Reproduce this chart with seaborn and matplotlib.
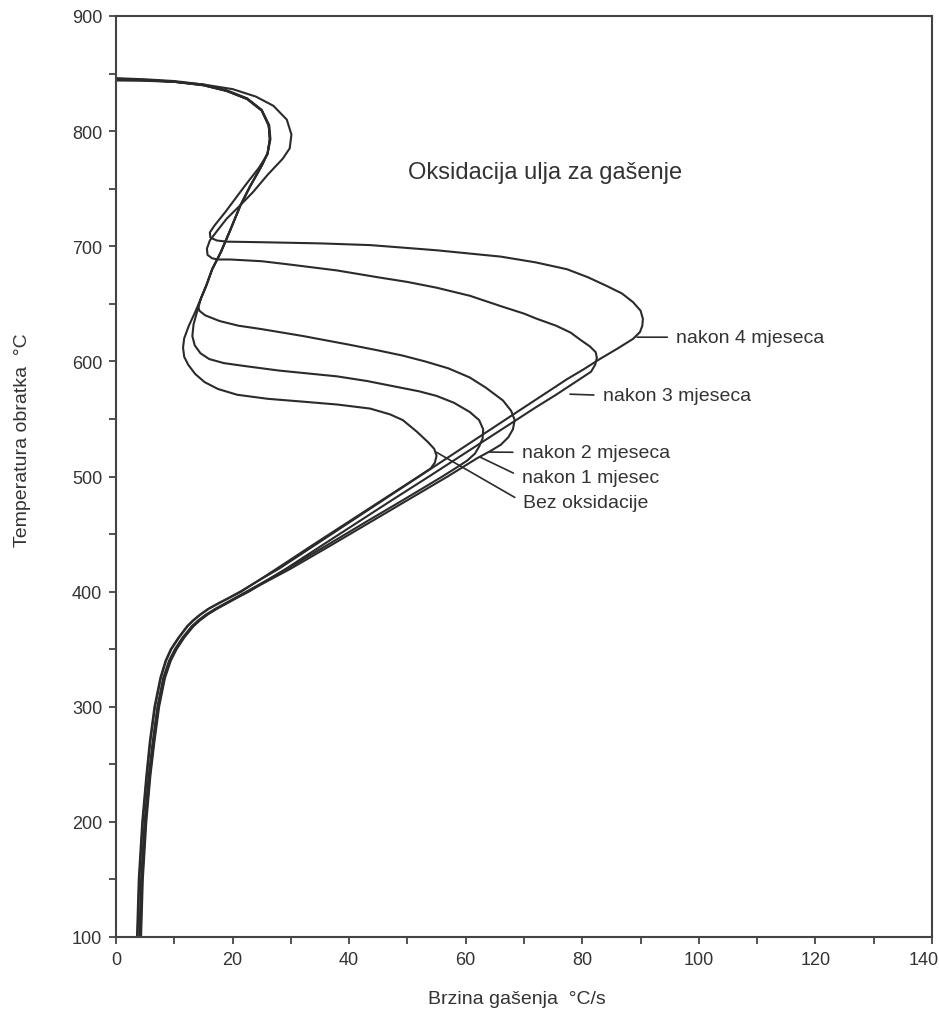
import matplotlib
matplotlib.use("Agg")
import matplotlib.pyplot as plt
import matplotlib.transforms as mtransforms
import pandas as pd
import seaborn as sns
from matplotlib.ticker import MultipleLocator

# ---------------- data (cooling rate °C/s, temperature °C) ----------------
SERIES = ["Bez oksidacije", "nakon 1 mjesec", "nakon 2 mjeseca",
          "nakon 3 mjeseca", "nakon 4 mjeseca"]

BEZ = [(0, 845.5), (5, 844.5), (10, 843), (15, 840), (19, 835), (22.5, 828), (25, 818),
       (26.2, 805), (26.4, 793), (26.0, 781), (25, 770), (23, 752), (21.3, 735), (19.6, 714),
       (18.0, 695), (16.5, 680), (15.5, 666), (14.6, 655), (13.6, 643), (12.5, 631),
       (11.7, 620), (11.5, 612), (11.7, 604), (12.4, 597), (13.6, 589), (15.2, 582),
       (17.5, 576), (20.8, 571), (26, 567.5), (32.1, 565), (38, 562.5), (43.6, 559),
       (47, 554), (49.2, 549), (51.6, 539), (53.5, 530), (54.6, 524), (55, 518), (54.7, 512),
       (54, 507), (51.9, 500), (45.8, 480), (39.7, 460), (33.6, 440), (27.6, 420), (21.5, 400),
       (19.6, 395), (17.7, 390), (15.9, 385), (14.5, 380), (13.3, 375), (12.3, 370),
       (10.8, 360), (9.5, 350), (8.6, 340), (7.7, 325), (6.7, 300), (5.9, 270), (5.3, 240),
       (4.6, 200), (4.0, 150), (3.7, 100)]

M1 = [(0, 845.2), (5, 844.3), (10, 842.9), (15, 839.9), (19, 835), (22.5, 828), (25, 818),
      (26.2, 805), (26.4, 793), (26.0, 780.5), (25, 770), (23, 752), (21.3, 735), (19.6, 714),
      (18.0, 695), (16.5, 680), (15.5, 666), (14.6, 655), (13.9, 643), (13.3, 632), (13.1, 622),
      (13.5, 614), (14.5, 607), (16, 602), (18.5, 598.5), (22, 596), (28, 592), (37.9, 587),
      (43, 583), (48, 578), (52, 574), (55, 570), (58, 564), (60.7, 556), (62.3, 549), (63, 541),
      (62.9, 533), (62.3, 526), (61.6, 520), (60.3, 514), (58.5, 508), (56.0, 500), (49.4, 480),
      (42.7, 460), (36.1, 440), (29.4, 420), (22.4, 400), (20.6, 395), (18.8, 390), (17.0, 385),
      (15.4, 380), (14.1, 375), (13.0, 370), (11.4, 360), (10.1, 350), (9.1, 340), (8.1, 325),
      (7.1, 300), (6.3, 270), (5.6, 240), (4.9, 200), (4.3, 150), (4.0, 100)]

M2 = [(0, 845), (5, 844.2), (10, 842.8), (15, 839.8), (19, 834.8), (22.5, 827.8), (25, 817.8),
      (26.2, 805), (26.4, 793), (26.0, 780.5), (25, 770), (23, 752), (21.3, 735), (19.6, 714),
      (18.0, 695), (16.5, 680), (15.5, 666), (14.6, 655), (14.1, 648), (14.3, 644), (15.3, 640),
      (17.8, 635), (21, 631), (25, 628), (32.1, 622), (40, 614.5), (45, 609.5), (49.2, 605),
      (53, 600), (57, 594), (60.7, 586), (63.5, 577), (66.4, 566), (67.8, 557), (68.4, 549),
      (68.1, 541), (67.3, 534), (66, 527.5), (64.2, 522), (62, 516), (56.9, 500), (50.2, 480),
      (43.5, 460), (36.8, 440), (30.0, 420), (22.6, 400), (20.8, 395), (19.0, 390), (17.2, 385),
      (15.6, 380), (14.3, 375), (13.2, 370), (11.6, 360), (10.3, 350), (9.3, 340), (8.3, 325),
      (7.3, 300), (6.5, 270), (5.8, 240), (5.1, 200), (4.5, 150), (4.2, 100)]

M3 = [(0, 844), (5, 843.7), (10, 842.8), (15, 840.5), (20, 836.5), (24, 830), (27, 822),
      (29.3, 810), (30.1, 797), (29.8, 785), (28.6, 776), (26, 762), (23.5, 747), (21.2, 735),
      (19, 724), (17.3, 713), (16.1, 705), (15.6, 698), (15.7, 692.5), (16.5, 689.5),
      (17.5, 688.5), (19.6, 688.5), (25, 687), (30, 684), (37.9, 679), (45, 673), (50, 669),
      (55, 664), (60.7, 657), (66, 648), (70, 641.5), (72.2, 637), (75.5, 631), (78, 625),
      (79.6, 619), (81.3, 613), (82.3, 608), (82.5, 603), (82.2, 597), (81.5, 591), (78.5, 581),
      (75.5, 571), (72, 560), (65.9, 540), (59.8, 520), (53.7, 500), (47.5, 480), (41.4, 460),
      (35.3, 440), (29.2, 420), (22.8, 400), (20.9, 395), (19.1, 390), (17.3, 385), (15.7, 380),
      (14.4, 375), (13.3, 370), (11.7, 360), (10.4, 350), (9.4, 340), (8.4, 325), (7.4, 300),
      (6.6, 270), (5.9, 240), (5.2, 200), (4.6, 150), (4.3, 100)]

M4 = [(0, 846), (5, 845), (10, 843.5), (15, 840.5), (19, 835.5), (22.5, 828.5), (25, 818.5),
      (26.3, 805), (26.5, 793), (26.0, 780), (24.5, 768), (22.8, 757), (21.3, 747), (18.8, 730),
      (16.9, 718), (16.1, 712), (16.2, 707.5), (17.3, 705), (19, 704), (25, 703.5), (35, 702.5),
      (43.6, 701), (50, 698.5), (55, 696.5), (60, 694), (66, 691), (72, 686), (77.4, 680),
      (81, 673), (84.2, 665.5), (86.8, 659), (88.7, 651.5), (90, 644), (90.4, 637), (90.3, 631),
      (89.9, 625.5), (88.7, 619.5), (86, 611), (83, 602), (80.2, 593), (77.4, 584.6), (70.0, 560),
      (64, 540), (58.0, 520), (52, 500), (46.0, 480), (40, 460), (34.0, 440), (28.0, 420),
      (24.6, 410), (21.3, 400), (19.5, 395), (17.6, 390), (15.8, 385), (14.4, 380), (13.2, 375),
      (12.2, 370), (10.7, 360), (9.4, 350), (8.5, 340), (7.6, 325), (6.6, 300), (5.8, 270),
      (5.2, 240), (4.5, 200), (3.9, 150), (3.6, 100)]

X_TICKS = [0, 20, 40, 60, 80, 100, 120, 140]
Y_TICKS = [100, 200, 300, 400, 500, 600, 700, 800, 900]

TITLE = "Oksidacija ulja za gašenje"
X_LABEL = "Brzina gašenja  °C/s"
Y_LABEL = "Temperatura obratka  °C"

# label text, point on curve, text anchor
CALLOUTS = [
    ("nakon 4 mjeseca", (89.4, 621.0), (96.1, 621.0)),
    ("nakon 3 mjeseca", (77.9, 571.5), (83.5, 570.5)),
    ("nakon 2 mjeseca", (64.2, 521.2), (69.6, 521.0)),
    ("nakon 1 mjesec", (62.4, 517.0), (69.6, 499.5)),
    ("Bez oksidacije", (55.0, 521.0), (69.8, 477.8)),
]

# ---------------- style ----------------
LINE = "#2b2b2b"
TEXT = "#333333"
SPINE = "#444444"

sns.set_theme(style="white")
plt.rcParams["font.family"] = ["Liberation Sans", "DejaVu Sans"]

W, H = 939, 1012
fig = plt.figure(figsize=(W / 100, H / 100), dpi=100)
ax = fig.add_axes([116 / W, 1 - 938 / H, (932 - 116) / W, (938 - 17) / H])

rows = []
for name, pts in zip(SERIES, [BEZ, M1, M2, M3, M4]):
    for i, (x, t) in enumerate(pts):
        rows.append((name, i, x, t))
df = pd.DataFrame(rows, columns=["serija", "i", "brzina", "temp"])

sns.lineplot(data=df, x="brzina", y="temp", units="serija", estimator=None,
             sort=False, color=LINE, linewidth=1.5, ax=ax, legend=False)

ax.set_xlim(0, 140)
ax.set_ylim(100, 900)
ax.set_xticks(X_TICKS)
ax.set_yticks(Y_TICKS)
ax.xaxis.set_minor_locator(MultipleLocator(10))
ax.yaxis.set_minor_locator(MultipleLocator(50))
ax.tick_params(which="both", direction="out", length=5, width=1.3, color=SPINE,
               bottom=True, left=True, top=False, right=False)
ax.tick_params(which="major", labelsize=13, labelcolor=TEXT, pad=5)
for s in ax.spines.values():
    s.set_visible(True)
    s.set_color(SPINE)
    s.set_linewidth(1.5)

ax.set_xlabel(X_LABEL, fontsize=14, color=TEXT)
ax.set_ylabel(Y_LABEL, fontsize=14, color=TEXT)
ax.xaxis.set_label_coords((517 - 116) / 816, (938 - 991) / 921)
ax.yaxis.set_label_coords((31 - 116) / 816, (938 - 440) / 921)

# keep the last x tick label inside the figure, as in the reference
last = ax.get_xticklabels()[-1]
last.set_transform(last.get_transform() +
                   mtransforms.ScaledTranslation(-8 / 100, 0, fig.dpi_scale_trans))

ax.text(50.1, 764.5, TITLE, fontsize=17, color=TEXT, ha="left", va="center")

for label, xy, xyt in CALLOUTS:
    ax.annotate(label, xy=xy, xytext=xyt, fontsize=14, color=TEXT, ha="left",
                va="center",
                arrowprops=dict(arrowstyle="-", color=LINE, lw=1.2, shrinkA=4,
                                shrinkB=0, relpos=(0, 0.5)))

fig.savefig("out.png", dpi=100, facecolor="white")
